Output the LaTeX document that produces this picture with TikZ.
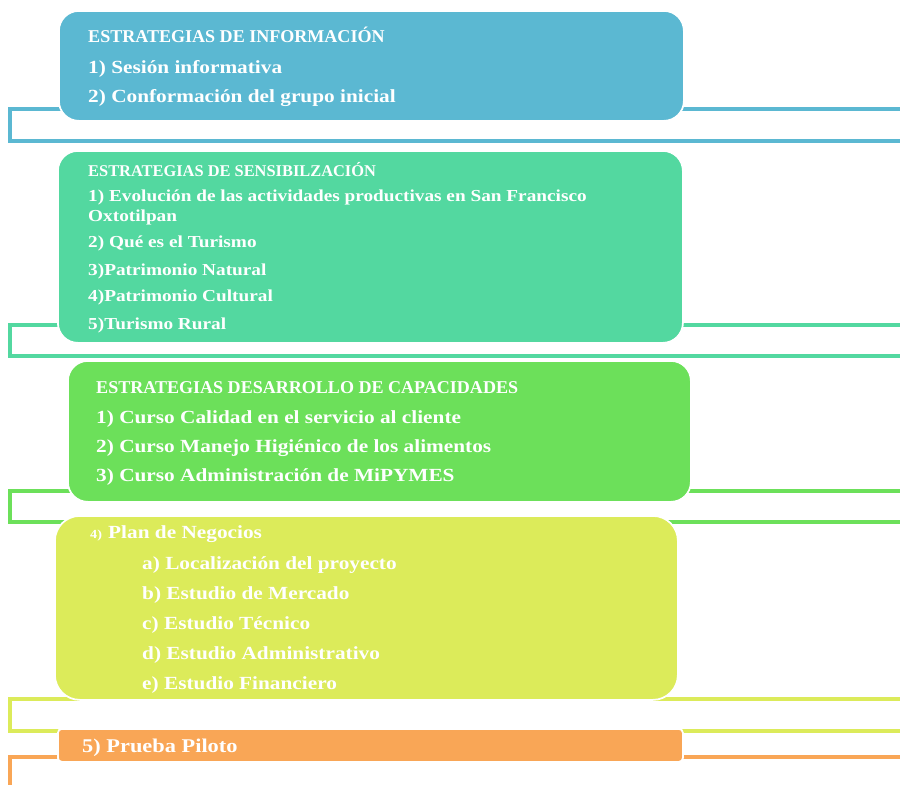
\documentclass[tikz,border=0pt]{standalone}
\usepackage{fontspec}
\setmainfont{Liberation Serif}
\newfontfamily\itemfont[FakeStretch=1.15]{Liberation Serif}
\usetikzlibrary{positioning}

\definecolor{infoblue}{RGB}{91,184,210}
\definecolor{sensgreen}{RGB}{83,216,160}
\definecolor{capgreen}{RGB}{108,224,90}
\definecolor{planlime}{RGB}{220,235,90}
\definecolor{pilotorange}{RGB}{249,166,86}

\begin{document}
\begin{tikzpicture}[x=0.03cm,y=-0.03cm,
	panel/.style={draw=white,line width=1.5pt,anchor=north west,inner sep=0pt,rounded corners=0.6cm},
	rail/.style={line width=3.4pt},
	headtxt/.style={anchor=base west,inner sep=0pt,text=white,font=\bfseries\fontsize{15.4}{18}\selectfont},
	itemtxt/.style={anchor=base west,inner sep=0pt,text=white,font=\itemfont\bfseries\fontsize{15.8}{18}\selectfont},
	smallhead/.style={headtxt,font=\bfseries\fontsize{14}{16}\selectfont},
	smallitem/.style={itemtxt,font=\itemfont\bfseries\fontsize{14.3}{16}\selectfont}]
	
	\useasboundingbox (0,0) rectangle (900,785);
	
	% rails behind the panels
	\draw[rail,infoblue] (900,109) -- (10,109) |- (900,141);
	\draw[rail,sensgreen] (900,325) -- (10,325) |- (900,356);
	\draw[rail,capgreen] (900,491) -- (10,491) |- (900,522);
	\draw[rail,planlime] (900,699) -- (10,699) |- (900,731);
	\draw[rail,pilotorange] (900,757) -- (10,757) -- (10,785);
	
	% panels
	\node[panel,fill=infoblue,minimum width=18.75cm,minimum height=3.3cm] (info) at (58,10) {};
	\node[panel,fill=sensgreen,minimum width=18.75cm,minimum height=5.76cm] (sens) at (57,150) {};
	\node[panel,fill=capgreen,minimum width=18.69cm,minimum height=4.23cm] (cap) at (67,360) {};
	\node[panel,fill=planlime,rounded corners=0.75cm,minimum width=18.69cm,minimum height=5.52cm] (plan) at (54,515) {};
	\node[panel,fill=pilotorange,rounded corners=0.12cm,minimum width=18.75cm,minimum height=0.99cm] (pilot) at (57,728) {};
	
	% information
	\node[headtxt] (infohead) at (88,42) {ESTRATEGIAS DE INFORMACIÓN};
	\node[itemtxt] (info1) at (88,73) {1) Sesión informativa};
	\node[itemtxt] (info2) at (88,102) {2) Conformación del grupo inicial};
	
	% sensibilization
	\node[smallhead] (senshead) at (88,176) {ESTRATEGIAS DE SENSIBILZACIÓN};
	\node[smallitem] (sens1) at (88,201) {1) Evolución de las actividades productivas en San Francisco};
	\node[smallitem] (sens1b) at (88,221) {Oxtotilpan};
	\node[smallitem] (sens2) at (88,247) {2) Qué es el Turismo};
	\node[smallitem] (sens3) at (88,275) {3)Patrimonio Natural};
	\node[smallitem] (sens4) at (88,301) {4)Patrimonio Cultural};
	\node[smallitem] (sens5) at (88,329) {5)Turismo Rural};
	
	% capacities
	\node[headtxt] (caphead) at (96,393) {ESTRATEGIAS DESARROLLO DE CAPACIDADES};
	\node[itemtxt] (cap1) at (96,423) {1) Curso Calidad en el servicio al cliente};
	\node[itemtxt] (cap2) at (96,452) {2) Curso Manejo Higiénico de los alimentos};
	\node[itemtxt] (cap3) at (96,481) {3) Curso Administración de MiPYMES};
	
	% business plan
	\node[itemtxt,font=\itemfont\bfseries\fontsize{10.5}{12}\selectfont] (plannum) at (90,538) {4)};
	\node[itemtxt] (planhead) at (108,538) {Plan de Negocios};
	\node[itemtxt] (plana) at (142,569) {a) Localización del proyecto};
	\node[itemtxt] (planb) at (142,599) {b) Estudio de Mercado};
	\node[itemtxt] (planc) at (142,629) {c) Estudio Técnico};
	\node[itemtxt] (pland) at (142,659) {d) Estudio Administrativo};
	\node[itemtxt] (plane) at (142,689) {e) Estudio Financiero};
	
	% pilot
	\node[itemtxt,font=\itemfont\bfseries\fontsize{16.6}{19}\selectfont] (pilothead) at (82,752) {5) Prueba Piloto};
\end{tikzpicture}
\end{document}
